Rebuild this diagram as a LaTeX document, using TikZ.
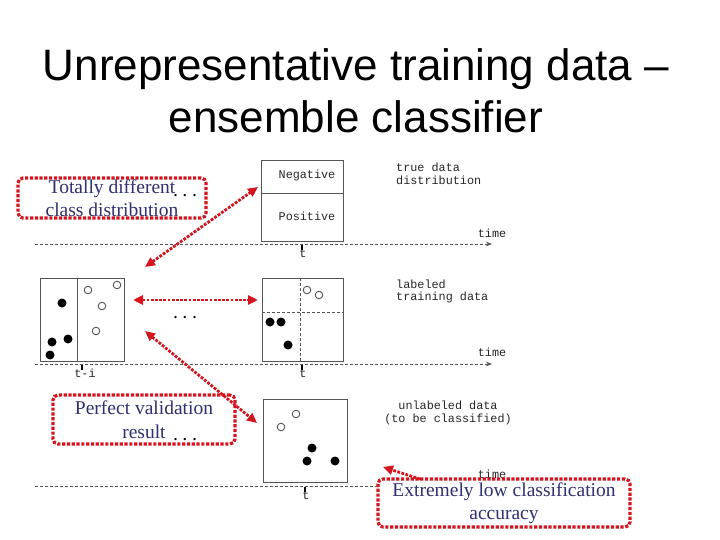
\documentclass[tikz,border=0pt]{standalone}
\usepackage{fontspec}
\setmainfont{Liberation Serif}
\setsansfont{Liberation Sans}
\setmonofont{Liberation Mono}
\usetikzlibrary{arrows.meta}
\definecolor{figRed}{HTML}{D4151F}
\definecolor{figNavy}{HTML}{2E3072}
\definecolor{figGray}{HTML}{555555}

\begin{document}
\begin{tikzpicture}[x=1pt,y=-1pt,
  panel/.style={draw=figGray,line width=0.9pt,inner sep=0pt},
  tag/.style={font=\ttfamily\fontsize{11.8}{12.5}\selectfont,text=black!85,inner sep=0pt},
  timeline/.style={draw=figGray,line width=0.6pt,dash pattern=on 3pt off 2pt,-{Stealth[length=6pt,width=4.5pt]}},
  tick/.style={line width=1.6pt},
  callout/.style={draw=figRed,line width=3.2pt,dash pattern=on 3.2pt off 1.6pt,rounded corners=5pt,fill=white,text=figNavy,font=\fontsize{19.5}{23.5}\selectfont,align=center,inner sep=0pt},
  redlink/.style={draw=figRed,line width=2.8pt,dash pattern=on 2.8pt off 1.4pt,arrows={Triangle[length=10pt,width=9pt]-Triangle[length=10pt,width=9pt]}},
  ellip/.style={font=\bfseries\fontsize{14}{14}\selectfont,inner sep=0pt,anchor=base}]
\useasboundingbox (0,0) rectangle (720,540);
\node[font=\sffamily\fontsize{44}{52}\selectfont,anchor=base] (titleA) at (356,81) {Unrepresentative training data --};
\node[font=\sffamily\fontsize{44}{52}\selectfont,anchor=base] (titleB) at (356,133) {ensemble classifier};

\draw[timeline] (35,244) -- (492,244);
\draw[timeline] (35,364) -- (492,364);
\draw[timeline] (35,486) -- (492,486);

\node[panel,minimum width=82pt,minimum height=81pt] (truebox) at (302,200.5) {};
\draw[figGray,line width=0.9pt] (truebox.west |- 0,193) -- (truebox.east |- 0,193);
\node[tag] (neg) at (307,175) {Negative};
\node[tag] (pos) at (307,216) {Positive};

\node[panel,minimum width=84pt,minimum height=83pt] (oldbox) at (82,319.5) {};
\draw[figGray,line width=0.9pt] (oldbox.north) ++(-5,0) -- ++(0,83);
\foreach \x/\y in {62/303,52/342,68/339,50/355} \fill (\x,\y) circle (4.5pt);
\foreach \x/\y in {88/290,117/285,102/306,96/331} \draw[figGray,line width=0.9pt] (\x,\y) circle (3.8pt);

\node[panel,minimum width=81pt,minimum height=83pt] (curbox) at (302.5,319.5) {};
\draw[figGray,line width=0.6pt,dash pattern=on 3pt off 2pt] (300,278) -- (300,361);
\draw[figGray,line width=0.6pt,dash pattern=on 3pt off 2pt] (curbox.west |- 0,312) -- (curbox.east |- 0,312);
\foreach \x/\y in {270/322,281/322,288/345} \fill (\x,\y) circle (4.5pt);
\foreach \x/\y in {307/290,319/295} \draw[figGray,line width=0.9pt] (\x,\y) circle (3.8pt);

\node[panel,minimum width=84pt,minimum height=83pt] (testbox) at (305,440.5) {};
\foreach \x/\y in {312/448,307/461,335/461} \fill (\x,\y) circle (4.5pt);
\foreach \x/\y in {281/427,296/414} \draw[figGray,line width=0.9pt] (\x,\y) circle (3.8pt);

\node[tag,anchor=west,align=left] (truetag) at (396,174) {true data\\distribution};
\node[tag,anchor=west,align=left] (labtag) at (396,291.5) {labeled\\training data};
\node[tag,align=center] (unltag) at (448,413) {unlabeled data\\(to be classified)};
\node[tag] (time1) at (492,233) {time};
\node[tag] (time2) at (492,352) {time};
\node[tag] (time3) at (492,474) {time};

\draw[tick] (302,245) -- (302,250);
\node[tag,anchor=north] (tA) at (303,249) {t};
\draw[tick] (82,365) -- (82,370);
\node[tag,anchor=north] (tB) at (85,369) {t-i};
\draw[tick] (302,365) -- (302,370);
\node[tag,anchor=north] (tC) at (303,369) {t};
\draw[tick] (305,487) -- (305,492);
\node[tag,anchor=north] (tD) at (306,491) {t};

\node[callout,minimum width=188pt,minimum height=40pt] (noteA) at (112,198) {Totally different\\class distribution};
\node[callout,minimum width=182pt,minimum height=49pt] (noteB) at (144,419.5) {Perfect validation\\result};
\node[callout,minimum width=252pt,minimum height=48pt] (noteC) at (504,503) {Extremely low classification\\accuracy};
\node[ellip] (dotsA) at (185,196.5) {.\hspace{6pt}.\hspace{6pt}.};
\node[ellip] (dotsB) at (185,318.5) {.\hspace{6pt}.\hspace{6pt}.};
\node[ellip] (dotsC) at (185,440) {.\hspace{6pt}.\hspace{6pt}.};

\coordinate (lnkA) at (145,267);
\coordinate (lnkB) at (133,300);
\coordinate (lnkC) at (145,331);
\coordinate (lnkD) at (258,187);
\coordinate (lnkE) at (258,300);
\coordinate (lnkF) at (257,423);
\coordinate (lnkG) at (420,479);
\coordinate (lnkH) at (383,467);
\draw[redlink] (lnkA) -- (lnkD);
\draw[redlink] (lnkB) -- (lnkE);
\draw[redlink] (lnkC) -- (lnkF);
\draw[redlink,arrows={-Triangle[length=10pt,width=9pt]}] (lnkG) -- (lnkH);
\end{tikzpicture}
\end{document}
